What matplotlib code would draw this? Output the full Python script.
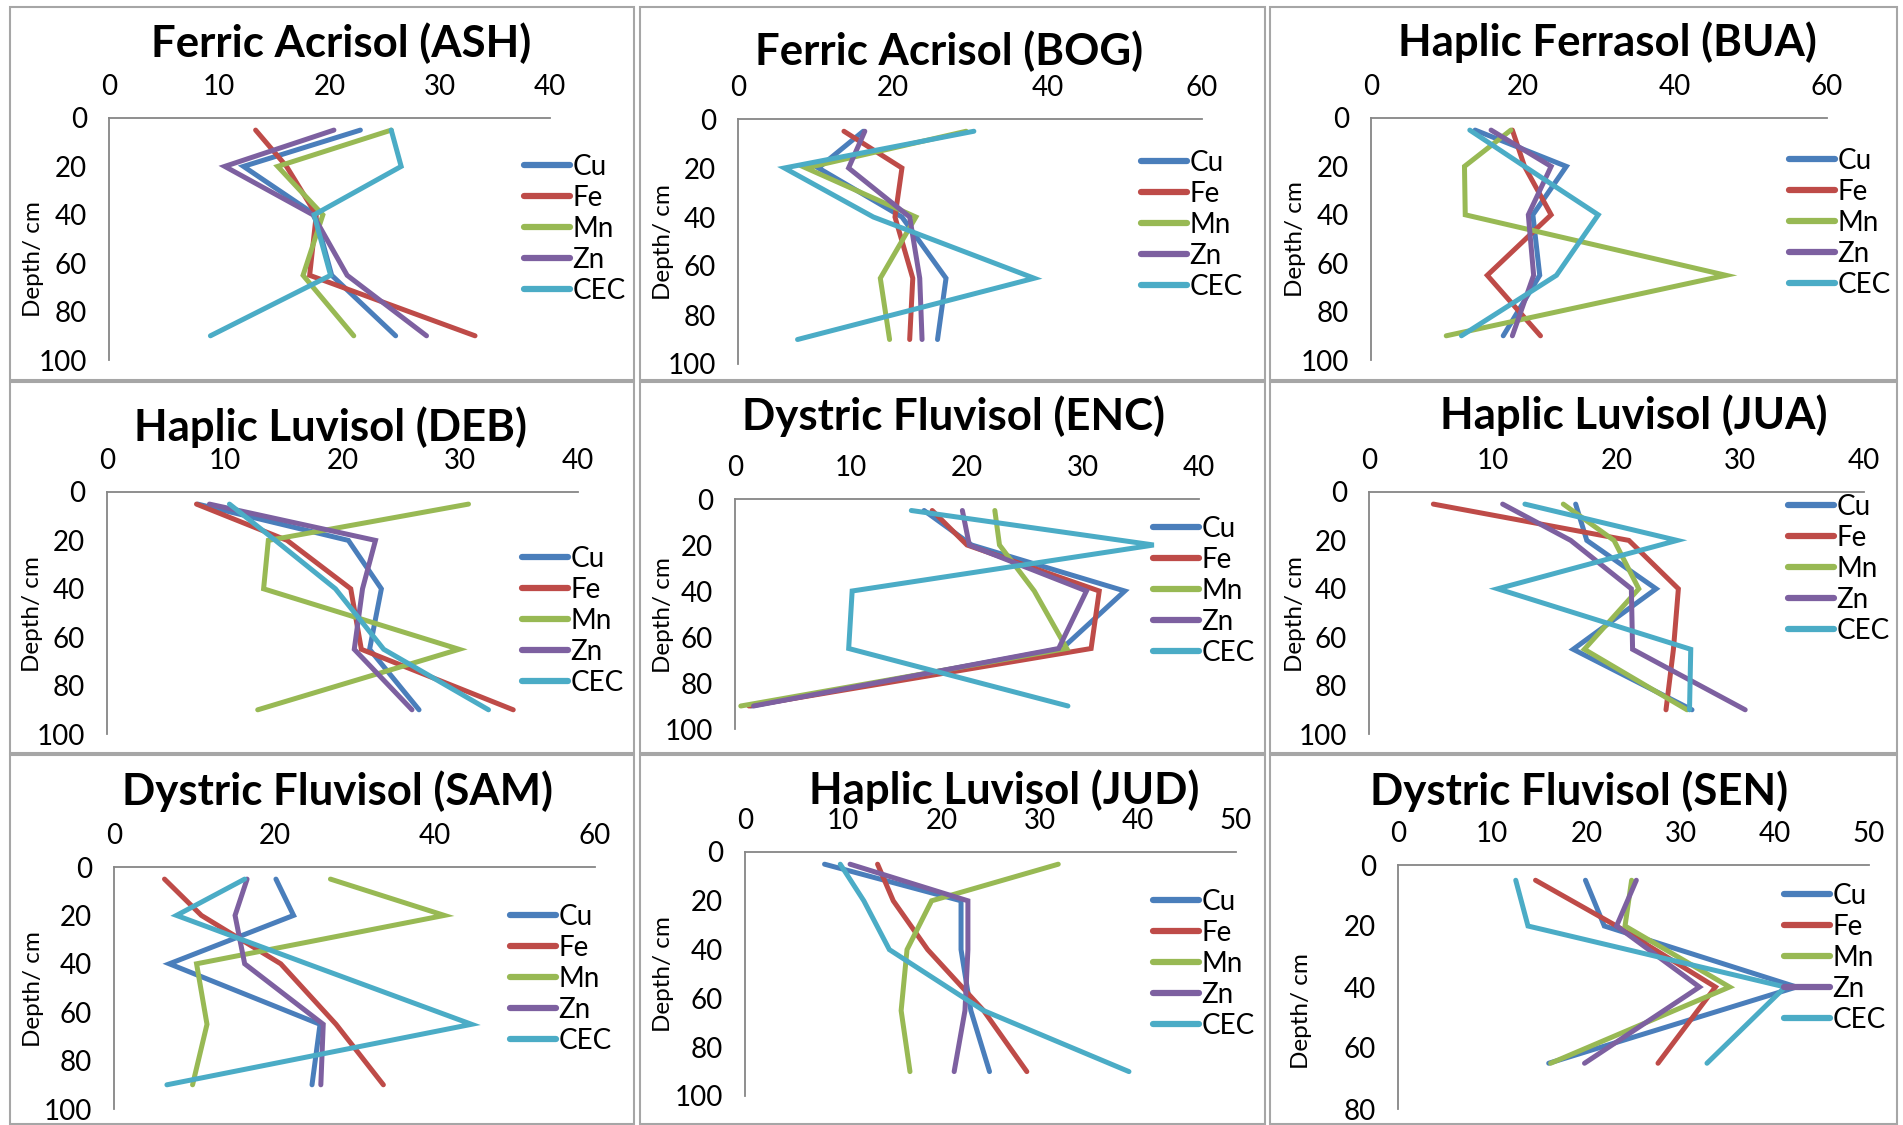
import matplotlib
matplotlib.use("Agg")
import matplotlib.pyplot as plt
from matplotlib.patches import Rectangle

plt.rcParams['font.family'] = ['Lato', 'DejaVu Sans']

W, H = 1903, 1125

elements = ['Cu', 'Fe', 'Mn', 'Zn', 'CEC']
colors = ['#4A7EBB', '#BE4B48', '#98B954', '#7D60A0', '#4BACC6']

depth5 = [5, 20, 40, 65, 90]
depth4 = [5, 20, 40, 65]

# ---- data ----
ASH_Cu = [22.8, 12.2, 18.7, 20.2, 26.0]
ASH_Fe = [13.3, 16.1, 18.8, 18.2, 33.2]
ASH_Mn = [25.6, 15.3, 19.4, 17.6, 22.2]
ASH_Zn = [20.4, 10.5, 18.5, 21.6, 28.8]
ASH_CEC = [25.6, 26.5, 18.6, 20.1, 9.2]

BOG_Cu = [16.2, 10.4, 21.2, 26.9, 25.8]
BOG_Fe = [13.7, 21.2, 20.3, 22.6, 22.2]
BOG_Mn = [29.5, 8.8, 23.0, 18.4, 19.6]
BOG_Zn = [16.4, 14.3, 22.2, 23.5, 23.8]
BOG_CEC = [30.5, 6.0, 17.5, 38.3, 7.7]

BUA_Cu = [13.7, 25.7, 21.3, 22.2, 17.4]
BUA_Fe = [18.6, 20.2, 23.7, 15.3, 22.3]
BUA_Mn = [18.4, 12.3, 12.4, 46.7, 9.9]
BUA_Zn = [15.8, 23.7, 20.7, 21.4, 18.6]
BUA_CEC = [13.0, 20.2, 29.9, 24.4, 11.9]

DEB_Cu = [7.7, 20.5, 23.3, 22.3, 26.5]
DEB_Fe = [7.6, 15.3, 20.7, 21.6, 34.5]
DEB_Mn = [30.7, 13.7, 13.3, 29.9, 12.8]
DEB_Zn = [8.7, 22.8, 21.7, 21.0, 25.9]
DEB_CEC = [10.4, 14.3, 19.4, 23.5, 32.4]

ENC_Cu = [16.3, 20.4, 33.6, 28.2, 1.4]
ENC_Fe = [17.0, 20.0, 31.4, 30.7, 1.2]
ENC_Mn = [22.4, 22.8, 25.8, 28.6, 0.5]
ENC_Zn = [19.6, 20.2, 30.3, 27.9, 1.6]
ENC_CEC = [15.2, 36.1, 10.1, 9.8, 28.7]

JUA_Cu = [16.7, 17.6, 23.2, 16.5, 26.1]
JUA_Fe = [5.2, 21.0, 25.0, 24.6, 24.0]
JUA_Mn = [15.7, 19.8, 21.8, 17.4, 25.7]
JUA_Zn = [10.8, 16.3, 21.2, 21.3, 30.4]
JUA_CEC = [12.6, 24.9, 10.4, 26.0, 25.9]

SAM_Cu = [20.2, 22.4, 6.9, 25.7, 24.7]
SAM_Fe = [6.3, 10.9, 20.8, 27.7, 33.6]
SAM_Mn = [27.0, 41.2, 10.3, 11.6, 9.8]
SAM_Zn = [16.6, 15.1, 16.3, 26.1, 25.8]
SAM_CEC = [16.3, 7.8, 24.1, 44.6, 6.6]

JUD_Cu = [8.1, 22.0, 22.0, 23.0, 24.9]
JUD_Fe = [13.5, 15.1, 18.6, 24.3, 28.7]
JUD_Mn = [31.9, 19.0, 16.5, 15.9, 16.8]
JUD_Zn = [10.7, 22.7, 22.7, 22.4, 21.3]
JUD_CEC = [9.7, 12.1, 14.7, 24.3, 39.1]

SEN_Cu = [19.9, 21.9, 42.3, 16.0]
SEN_Fe = [14.6, 23.2, 33.7, 27.6]
SEN_Mn = [24.8, 24.1, 35.2, 16.2]
SEN_Zn = [25.3, 23.2, 32.0, 19.8]
SEN_CEC = [12.5, 13.8, 41.1, 32.8]

titles = ['Ferric Acrisol (ASH)', 'Ferric Acrisol (BOG)', 'Haplic Ferrasol (BUA)',
          'Haplic Luvisol (DEB)', 'Dystric Fluvisol (ENC)', 'Haplic Luvisol (JUA)',
          'Dystric Fluvisol (SAM)', 'Haplic Luvisol (JUD)', 'Dystric Fluvisol (SEN)']
x_max = [40, 60, 60, 40, 40, 40, 60, 50, 50]
x_step = [10, 20, 20, 10, 10, 10, 20, 10, 10]
y_max = [100, 100, 100, 100, 100, 100, 100, 100, 80]

series = [
    (depth5, [ASH_Cu, ASH_Fe, ASH_Mn, ASH_Zn, ASH_CEC]),
    (depth5, [BOG_Cu, BOG_Fe, BOG_Mn, BOG_Zn, BOG_CEC]),
    (depth5, [BUA_Cu, BUA_Fe, BUA_Mn, BUA_Zn, BUA_CEC]),
    (depth5, [DEB_Cu, DEB_Fe, DEB_Mn, DEB_Zn, DEB_CEC]),
    (depth5, [ENC_Cu, ENC_Fe, ENC_Mn, ENC_Zn, ENC_CEC]),
    (depth5, [JUA_Cu, JUA_Fe, JUA_Mn, JUA_Zn, JUA_CEC]),
    (depth5, [SAM_Cu, SAM_Fe, SAM_Mn, SAM_Zn, SAM_CEC]),
    (depth5, [JUD_Cu, JUD_Fe, JUD_Mn, JUD_Zn, JUD_CEC]),
    (depth4, [SEN_Cu, SEN_Fe, SEN_Mn, SEN_Zn, SEN_CEC]),
]

# ---- layout in pixels ----
plot_rects = [(109, 118, 550, 360), (738, 119, 1202, 364), (1371, 118, 1827, 360),
              (107, 492, 578, 734), (735, 499, 1199, 729), (1369, 492, 1864, 734),
              (114, 867, 595, 1109), (745, 852, 1236, 1096), (1398, 865, 1869, 1109)]
title_pos = [(341, 43), (949, 51), (1607, 42), (331, 427), (954, 416), (1634, 415),
             (337, 791), (1004, 790), (1579, 791)]
ylabel_pos = [(33, 259), (663, 242), (1295, 239), (33, 614), (664, 615), (1296, 614),
              (33, 989), (664, 974), (1301, 1011)]
legend_pos = [(524, 164), (1141, 160), (1789, 158), (522, 556), (1153, 526), (1788, 504),
              (510, 914), (1153, 899), (1784, 893)]
cols = [(10, 634), (640, 1265), (1270, 1897)]
rows = [(7, 380), (382, 753), (755, 1124)]

fig = plt.figure(figsize=(W / 100, H / 100), dpi=100)
fig.patch.set_facecolor('white')

for (c0, c1) in cols:
    for (r0, r1) in rows:
        fig.patches.append(Rectangle((c0 / W, 1 - r1 / H), (c1 - c0) / W, (r1 - r0) / H,
                                     transform=fig.transFigure, fill=False,
                                     edgecolor='#A6A6A6', linewidth=1.5))

for i in range(9):
    l, t, r, b = plot_rects[i]
    ax = fig.add_axes([l / W, 1 - b / H, (r - l) / W, (b - t) / H])
    depth, vals = series[i]
    for name, col, v in zip(elements, colors, vals):
        ax.plot(v, depth, color=col, lw=3.6, label=name, solid_capstyle='round',
                solid_joinstyle='miter')
    ax.set_xlim(0, x_max[i])
    ax.set_ylim(y_max[i], 0)
    ax.set_xticks(range(0, x_max[i] + 1, x_step[i]))
    ax.set_yticks(range(0, y_max[i] + 1, 20))
    ax.xaxis.tick_top()
    ax.tick_params(axis='x', length=0, pad=13, labelsize=20)
    ax.tick_params(axis='y', length=0, pad=16, labelsize=20)
    for s in ['right', 'bottom']:
        ax.spines[s].set_visible(False)
    for s in ['top', 'left']:
        ax.spines[s].set_color('#868686')
        ax.spines[s].set_linewidth(1.3)
    ax.set_facecolor('none')
    lx, ly = ylabel_pos[i]
    ax.set_ylabel('Depth/ cm', fontsize=17.5, ha='center', va='center')
    ax.yaxis.set_label_coords((lx - l) / (r - l), (b - ly) / (b - t))
    tx, ty = title_pos[i]
    fig.text(tx / W, 1 - ty / H, titles[i], fontsize=31.5, fontweight='bold',
             ha='center', va='center')
    gx, gy = legend_pos[i]
    leg = ax.legend(loc='upper left', bbox_to_anchor=(gx / W, 1 - (gy - 10) / H),
                    bbox_transform=fig.transFigure, frameon=False, fontsize=20,
                    borderpad=0, borderaxespad=0, handlelength=1.65, handletextpad=0.1,
                    labelspacing=0.18)
    for ln in leg.get_lines():
        ln.set_linewidth(4.5)

fig.savefig('out.png', dpi=100)
